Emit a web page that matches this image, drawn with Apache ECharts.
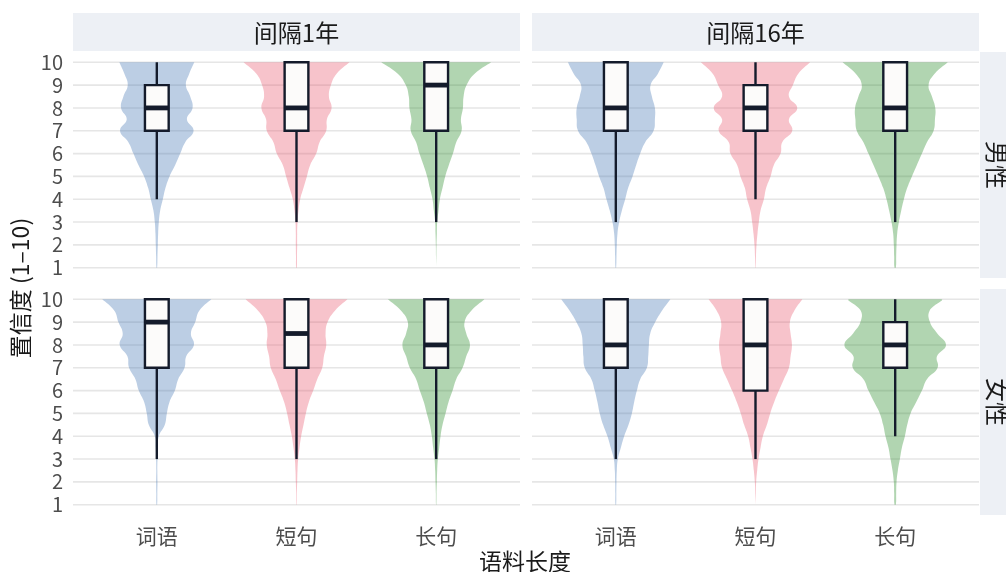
<!DOCTYPE html>
<html>
<head>
<meta charset="utf-8">
<script src="https://cdn.jsdelivr.net/npm/echarts@6/dist/echarts.min.js"></script>
<style>
html,body{margin:0;padding:0;background:#fff;}
#chart{width:1006px;height:572px;}
</style>
</head>
<body>
<div id="chart"></div>
<script>
// ---------- data ----------
const categories = ['词语', '短句', '长句'];
const intervals = ['间隔1年', '间隔16年'];
const genders = ['男性', '女性'];
const yTicks = [1, 2, 3, 4, 5, 6, 7, 8, 9, 10];
// density sample levels (confidence score), from 10 down to 1
const levels = [10, 9.5, 9, 8.5, 8, 7.5, 7, 6.5, 6, 5.5, 5, 4.5, 4, 3.5, 3, 2.5, 2, 1.5, 1];

// relative violin density at each level
const densMale1 = [
  [112, 97, 87, 100, 107, 90, 110, 85, 70, 55, 38, 26, 18, 10, 6, 4, 3, 2, 1],
  [158, 120, 103, 97, 105, 91, 89, 69, 59, 41, 31, 21, 11, 6, 3, 2, 2, 1.5, 1],
  [164, 115, 91, 82, 80, 74, 76, 60, 50, 38, 27, 19, 11, 7, 3, 2, 1, 0.5, 0]
];
const densMale16 = [
  [143, 126, 104, 108, 117, 117, 113, 88, 73, 61, 50, 37, 28, 18, 10, 5, 3, 2, 1],
  [163, 128, 112, 100, 125, 100, 110, 80, 75, 55, 45, 32, 25, 15, 10, 6, 3, 1.5, 0.5],
  [157, 118, 100, 110, 120, 119, 115, 95, 80, 65, 50, 36, 26, 18, 11, 6, 4, 3, 2]
];
const densFemale1 = [
  [163, 127, 115, 102, 111, 88, 83, 64, 54, 38, 30, 24, 6, 3, 2, 1.5, 2, 1.5, 1],
  [152, 115, 93, 87, 89, 82, 77, 62, 50, 37, 28, 21, 14, 9, 5, 3, 2, 1, 0.5],
  [144, 105, 85, 90, 101, 90, 79, 60, 49, 37, 28, 19, 13, 9, 5, 3, 2, 1, 0.5]
];
const densFemale16 = [
  [163, 138, 118, 103, 99, 97, 93, 73, 63, 55, 48, 38, 25, 15, 6, 3, 2, 1.5, 1],
  [140, 116, 103, 105, 109, 105, 100, 85, 70, 56, 44, 34, 22, 15, 9, 5, 2, 1, 0],
  [138, 103, 104, 126, 152, 125, 127, 95, 80, 63, 46, 36, 29, 20, 14, 8, 4, 3, 2]
];

// box stats per category: [lower whisker, Q1, median, Q3, upper whisker]
const boxMale1 = [[4, 7, 8, 9, 10], [3, 7, 8, 10, 10], [3, 7, 9, 10, 10]];
const boxMale16 = [[3, 7, 8, 10, 10], [4, 7, 8, 9, 10], [3, 7, 8, 10, 10]];
const boxFemale1 = [[3, 7, 9, 10, 10], [3, 7, 8.5, 10, 10], [3, 7, 8, 10, 10]];
const boxFemale16 = [[3, 7, 8, 10, 10], [3, 6, 8, 10, 10], [4, 7, 8, 9, 10]];

// ---------- styling ----------
const DENSITY_TO_WIDTH = 1 / 418;
const BOX_HALF = 0.085;
const violinColors = ['rgba(70,120,180,0.36)', 'rgba(232,89,112,0.36)', 'rgba(38,138,38,0.36)'];
const boxStroke = '#141b2b';
const FONT = '"Noto Sans CJK SC", "Noto Sans", sans-serif';

const panels = [
  { dens: densMale1, box: boxMale1, left: 73, top: 52, labelsY: true, labelsX: false },
  { dens: densMale16, box: boxMale16, left: 532, top: 52, labelsY: false, labelsX: false },
  { dens: densFemale1, box: boxFemale1, left: 73, top: 289, labelsY: true, labelsX: true },
  { dens: densFemale16, box: boxFemale16, left: 532, top: 289, labelsY: false, labelsX: true }
];
const PANEL_W = 447, PANEL_H = 226;

const grid = [], xAxis = [], yAxis = [], series = [];
panels.forEach((p, i) => {
  grid.push({ left: p.left, top: p.top, width: PANEL_W, height: PANEL_H });
  xAxis.push({
    type: 'value', gridIndex: i, min: 0.4, max: 3.6,
    axisLine: { show: false }, axisTick: { show: false }, splitLine: { show: false },
    axisLabel: {
      show: p.labelsX, customValues: [1, 2, 3], margin: 11,
      formatter: v => categories[Math.round(v) - 1] || '',
      color: '#4d4d4d', fontSize: 21, fontFamily: FONT
    }
  });
  yAxis.push({
    type: 'value', gridIndex: i, min: 0.55, max: 10.45,
    axisLine: { show: false }, axisTick: { show: false }, splitLine: { show: false },
    axisLabel: {
      show: p.labelsY, customValues: yTicks, margin: 10,
      color: '#4d4d4d', fontSize: 20, fontFamily: FONT
    }
  });
  // horizontal grid lines
  series.push({
    type: 'custom', xAxisIndex: i, yAxisIndex: i, silent: true, z: 1,
    data: yTicks.map(t => [t]),
    renderItem: (params, api) => {
      const cs = params.coordSys;
      const y = api.coord([1, api.value(0)])[1];
      return { type: 'line', shape: { x1: cs.x, y1: y, x2: cs.x + cs.width, y2: y },
        style: { stroke: '#e6e6e6', lineWidth: 1.6 } };
    }
  });
  // violins
  series.push({
    type: 'custom', xAxisIndex: i, yAxisIndex: i, silent: true, z: 2,
    data: categories.map((c, k) => [k + 1]),
    renderItem: (params, api) => {
      const k = api.value(0) - 1;
      const d = p.dens[k];
      const cx = k + 1;
      const right = levels.map((lv, j) => api.coord([cx + d[j] * DENSITY_TO_WIDTH, lv]));
      const left = levels.map((lv, j) => api.coord([cx - d[j] * DENSITY_TO_WIDTH, lv])).reverse();
      const pts = right.concat(left);
      const xs = pts.map(q => q[0]), ys = pts.map(q => q[1]);
      const bounds = [[Math.min(...xs), Math.min(...ys)], [Math.max(...xs), Math.max(...ys)]];
      return { type: 'polygon', shape: { points: pts, smooth: 0.45, smoothConstraint: bounds },
        style: { fill: violinColors[k] } };
    }
  });
  // boxplots
  series.push({
    type: 'custom', xAxisIndex: i, yAxisIndex: i, silent: true, z: 3,
    data: p.box.map((b, k) => [k + 1].concat(b)),
    renderItem: (params, api) => {
      const x = api.value(0);
      const lo = api.coord([x, api.value(1)]);
      const q1 = api.coord([x, api.value(2)]);
      const md = api.coord([x, api.value(3)]);
      const q3 = api.coord([x, api.value(4)]);
      const hi = api.coord([x, api.value(5)]);
      const xl = api.coord([x - BOX_HALF, 0])[0];
      const xr = api.coord([x + BOX_HALF, 0])[0];
      const ls = { stroke: boxStroke, lineWidth: 2.4 };
      return { type: 'group', children: [
        { type: 'line', shape: { x1: lo[0], y1: lo[1], x2: q1[0], y2: q1[1] }, style: ls },
        { type: 'line', shape: { x1: q3[0], y1: q3[1], x2: hi[0], y2: hi[1] }, style: ls },
        { type: 'rect', shape: { x: xl, y: q3[1], width: xr - xl, height: q1[1] - q3[1] },
          style: { fill: '#fcfbfa', stroke: boxStroke, lineWidth: 2.4 } },
        { type: 'line', shape: { x1: xl, y1: md[1], x2: xr, y2: md[1] },
          style: { stroke: boxStroke, lineWidth: 4.8 } }
      ] };
    }
  });
});

const graphic = [];
// column strips
intervals.forEach((t, j) => {
  const x = panels[j].left;
  graphic.push({ type: 'rect', shape: { x: x, y: 13, width: PANEL_W, height: 38 }, style: { fill: '#edf0f5' }, silent: true });
  graphic.push({ type: 'text', x: x + PANEL_W / 2, y: 33, style: { text: t, fill: '#1a1a1a', fontSize: 24, fontFamily: FONT, align: 'center', verticalAlign: 'middle' }, silent: true });
});
// row strips
genders.forEach((g, j) => {
  const top = panels[j * 2].top;
  graphic.push({ type: 'rect', shape: { x: 980, y: top, width: 40, height: PANEL_H }, style: { fill: '#edf0f5' }, silent: true });
  graphic.push({ type: 'text', x: 997, y: top + PANEL_H / 2, rotation: -Math.PI / 2, style: { text: g, fill: '#1a1a1a', fontSize: 24, fontFamily: FONT, align: 'center', verticalAlign: 'middle' }, silent: true });
});
// axis titles
graphic.push({ type: 'text', x: 525, y: 561, style: { text: '语料长度', fill: '#1a1a1a', fontSize: 23, fontFamily: FONT, align: 'center', verticalAlign: 'middle' }, silent: true });
graphic.push({ type: 'text', x: 20, y: 288, rotation: Math.PI / 2, style: { text: '置信度 (1–10)', fill: '#1a1a1a', fontSize: 23, fontFamily: FONT, align: 'center', verticalAlign: 'middle' }, silent: true });

const chart = echarts.init(document.getElementById('chart'), null, { renderer: 'canvas' });
chart.setOption({ animation: false, grid, xAxis, yAxis, series, graphic });
</script>
</body>
</html>
